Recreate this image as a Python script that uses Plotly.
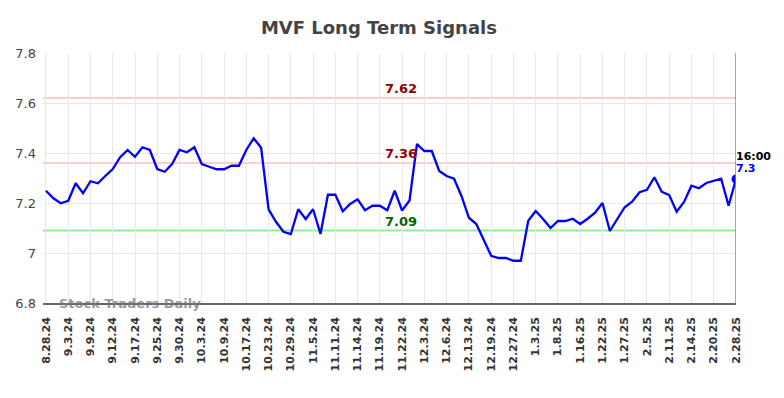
import plotly.graph_objects as go

title = "MVF Long Term Signals"
tick_labels = ["8.28.24", "9.3.24", "9.9.24", "9.12.24", "9.17.24", "9.25.24", "9.30.24",
               "10.3.24", "10.9.24", "10.17.24", "10.23.24", "10.29.24", "11.5.24", "11.11.24",
               "11.14.24", "11.19.24", "11.22.24", "12.3.24", "12.6.24", "12.13.24", "12.19.24",
               "12.27.24", "1.3.25", "1.8.25", "1.16.25", "1.22.25", "1.27.25", "2.5.25",
               "2.11.25", "2.14.25", "2.20.25", "2.28.25"]
tick_step = 3

prices = [7.249, 7.219, 7.199, 7.209, 7.279, 7.239, 7.287, 7.279, 7.308, 7.336,
          7.383, 7.412, 7.385, 7.423, 7.412, 7.336, 7.325, 7.356, 7.412, 7.403,
          7.423, 7.356, 7.345, 7.335, 7.335, 7.349, 7.349, 7.412, 7.459, 7.421,
          7.175, 7.125, 7.085, 7.076, 7.175, 7.136, 7.175, 7.076, 7.233, 7.233,
          7.167, 7.196, 7.215, 7.171, 7.189, 7.189, 7.171, 7.249, 7.170, 7.210,
          7.436, 7.408, 7.408, 7.328, 7.308, 7.297, 7.228, 7.141, 7.116, 7.052,
          6.989, 6.980, 6.980, 6.969, 6.969, 7.129, 7.168, 7.136, 7.100, 7.128,
          7.128, 7.137, 7.116, 7.137, 7.161, 7.200, 7.088, 7.136, 7.183, 7.205,
          7.243, 7.253, 7.303, 7.245, 7.232, 7.165, 7.204, 7.269, 7.259, 7.280,
          7.289, 7.297, 7.189, 7.296]

resistance_levels = [7.62, 7.36]
support_levels = [7.09]
last_time = "16:00"
last_label = "7.3"
y_ticks = [6.8, 7.0, 7.2, 7.4, 7.6, 7.8]
y_tick_text = ["6.8", "7", "7.2", "7.4", "7.6", "7.8"]

x = list(range(len(prices)))
last = len(prices) - 1

fig = go.Figure()
fig.add_trace(go.Scatter(x=x, y=prices, mode="lines",
                         line=dict(color="#0000ff", width=2.3), hoverinfo="skip"))
fig.add_trace(go.Scatter(x=[last], y=[prices[-1]], mode="markers",
                         marker=dict(color="#0000ff", size=9), hoverinfo="skip"))

for lv in resistance_levels:
    fig.add_hline(y=lv, line=dict(color="#ffcccc", width=2), layer="below")
    fig.add_annotation(x=47.8, y=lv, text=f"<b>{lv:.2f}</b>", showarrow=False,
                       yanchor="bottom", yshift=0,
                       font=dict(color="#8b0000", size=13, family="DejaVu Sans"))
for lv in support_levels:
    fig.add_hline(y=lv, line=dict(color="#90ee90", width=2), layer="below")
    fig.add_annotation(x=47.8, y=lv, text=f"<b>{lv:.2f}</b>", showarrow=False,
                       yanchor="bottom", yshift=0,
                       font=dict(color="#006400", size=13, family="DejaVu Sans"))

fig.add_shape(type="line", xref="x", yref="paper", x0=last, x1=last, y0=0, y1=1,
              line=dict(color="#888888", width=1.5))

fig.add_annotation(x=last, y=prices[-1], text=f"<b>{last_time}</b>", showarrow=False,
                   xanchor="left", yanchor="middle", xshift=-2, yshift=23,
                   font=dict(color="#000000", size=11, family="DejaVu Sans"))
fig.add_annotation(x=last, y=prices[-1], text=f"<b>{last_label}</b>", showarrow=False,
                   xanchor="left", yanchor="middle", xshift=-2, yshift=11,
                   font=dict(color="#0000ff", size=11, family="DejaVu Sans"))

fig.add_annotation(xref="paper", yref="paper", x=0.02, y=0.0, xanchor="left",
                   yanchor="middle", text="<b>Stock Traders Daily</b>", showarrow=False,
                   font=dict(color="rgba(120,120,120,0.75)", size=13, family="DejaVu Sans"))

fig.update_layout(
    width=776, height=390,
    margin=dict(l=35, r=48, t=45, b=95, autoexpand=False),
    paper_bgcolor="white", plot_bgcolor="white",
    showlegend=False,
    title=dict(text=f"<b>{title}</b>", x=0.478, xanchor="center", y=0.95, yanchor="middle",
               font=dict(size=18, color="#444444", family="DejaVu Sans")),
    font=dict(family="DejaVu Sans"),
)
fig.update_xaxes(range=[-0.4, last], tickmode="array",
                 tickvals=[i * tick_step for i in range(len(tick_labels))],
                 ticktext=[f"<b>{t}</b>" for t in tick_labels], tickangle=-90,
                 tickfont=dict(size=11, color="#333333", family="DejaVu Sans"),
                 showgrid=True, gridcolor="#e8e8e8", gridwidth=1,
                 showline=True, linecolor="#666666", linewidth=1.5,
                 ticks="", ticklabelstandoff=8, zeroline=False, automargin=False)
fig.update_yaxes(range=[6.8, 7.8], tickmode="array", tickvals=y_ticks, ticktext=y_tick_text,
                 tickfont=dict(size=13, color="#444444", family="DejaVu Sans"),
                 showgrid=True, gridcolor="#e8e8e8", gridwidth=1,
                 showline=False, zeroline=False, ticks="", ticklabelstandoff=6, automargin=False)

fig.write_html("out.html")
